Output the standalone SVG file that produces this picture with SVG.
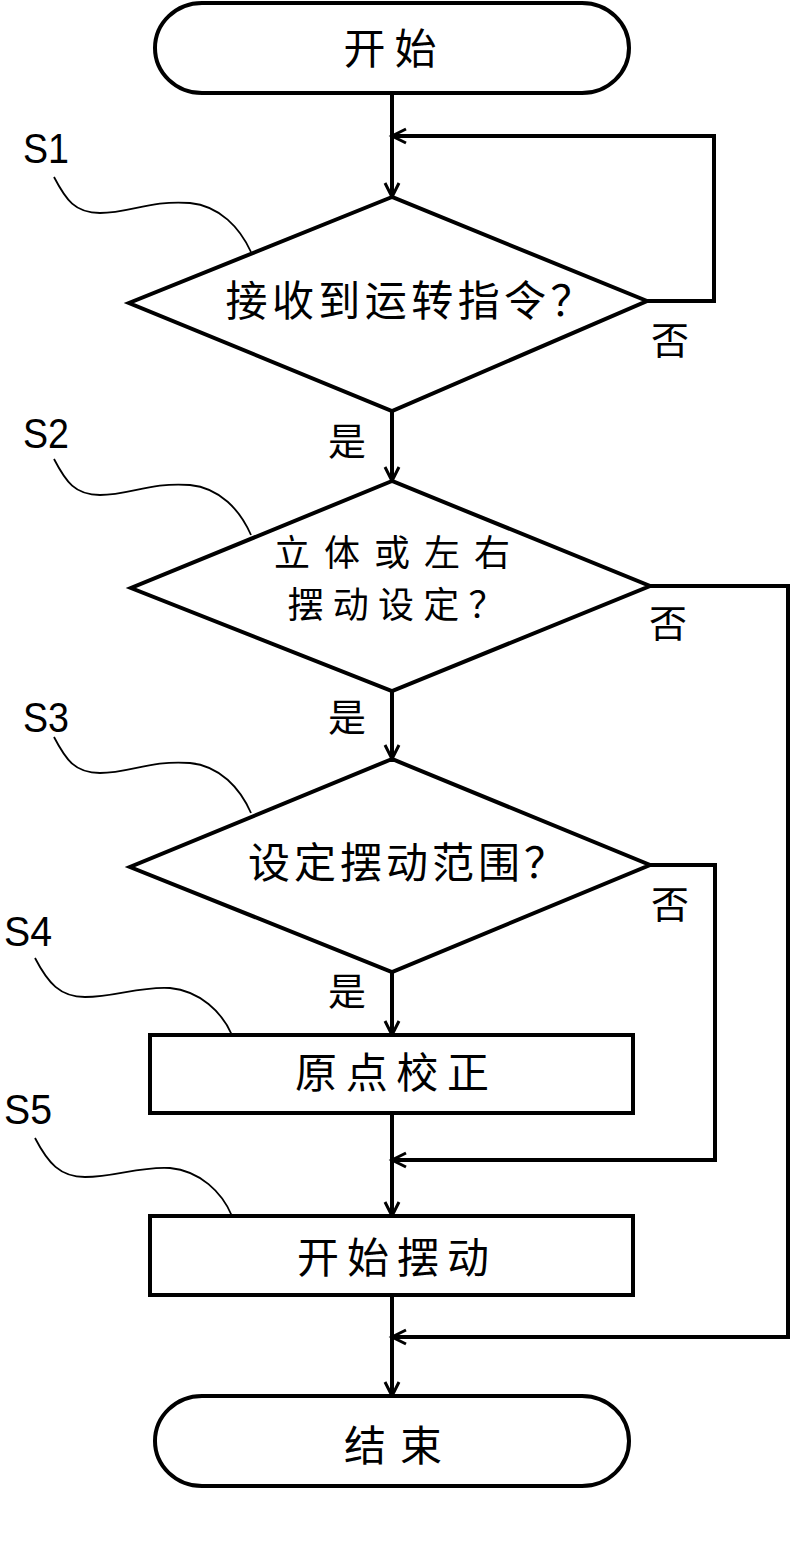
<svg xmlns="http://www.w3.org/2000/svg" width="811" height="1562" viewBox="0 0 811 1562">
<style>
.shape{fill:#fff;stroke:#000;stroke-width:4;stroke-linejoin:miter}
.conn{fill:none;stroke:#000;stroke-width:4}
.lead{fill:none;stroke:#000;stroke-width:1.8}
.t{font-family:"Noto Sans CJK SC","Noto Sans CJK JP",sans-serif;font-size:42px;fill:#000;text-anchor:middle}
.t2{font-family:"Noto Sans CJK SC","Noto Sans CJK JP",sans-serif;font-size:36px;fill:#000;text-anchor:middle}
.yn{font-family:"Noto Sans CJK SC","Noto Sans CJK JP",sans-serif;font-size:38px;fill:#000;text-anchor:middle}
.s{font-family:"Liberation Sans",Arial,sans-serif;font-size:42px;fill:#000}
</style>
<defs>
<marker id="arr" markerUnits="userSpaceOnUse" markerWidth="20" markerHeight="20" refX="16" refY="8" orient="auto" viewBox="0 0 20 16">
<path d="M2,1 L16,8 L2,15" fill="none" stroke="#000" stroke-width="3"/>
</marker>
</defs>
<rect width="811" height="1562" fill="#fff"/>
<g id="connectors">
<line class="conn" x1="392" y1="93" x2="392" y2="197" marker-end="url(#arr)"/>
<polyline class="conn" points="647,301 714,301 714,136 392,136" marker-end="url(#arr)"/>
<line class="conn" x1="392" y1="411" x2="392" y2="481" marker-end="url(#arr)"/>
<line class="conn" x1="392" y1="691" x2="392" y2="759" marker-end="url(#arr)"/>
<polyline class="conn" points="650,586 788,586 788,1337 392,1337" marker-end="url(#arr)"/>
<line class="conn" x1="392" y1="972" x2="392" y2="1035" marker-end="url(#arr)"/>
<polyline class="conn" points="650,865 715,865 715,1160 392,1160" marker-end="url(#arr)"/>
<line class="conn" x1="392" y1="1113" x2="392" y2="1216" marker-end="url(#arr)"/>
<line class="conn" x1="392" y1="1295" x2="392" y2="1396" marker-end="url(#arr)"/>
</g>
<g id="start">
<rect class="shape" x="155" y="3" width="474" height="90" rx="47" ry="45"/>
<text class="t" x="390" y="64" textLength="93" lengthAdjust="spacing">开始</text>
</g>
<g id="S1">
<polygon class="shape" points="392,197 129,303 392,411 647,301"/>
<text class="t" x="409" y="316" textLength="367" lengthAdjust="spacing">接收到运转指令？</text>
<text class="s" x="23" y="163" textLength="46" lengthAdjust="spacingAndGlyphs">S1</text>
<path class="lead" d="M54,177 C66,200 75,213 100,213 C130,213 150,200 190,203 C220,206 240,228 251,252"/>
<text class="yn" x="670" y="354">否</text>
<text class="yn" x="347" y="455">是</text>
</g>
<g id="S2">
<polygon class="shape" points="392,481 131,588 392,691 650,586"/>
<text class="t2" x="392" y="566" textLength="236" lengthAdjust="spacing">立体或左右</text>
<text class="t2" x="396" y="618" textLength="217" lengthAdjust="spacing">摆动设定？</text>
<text class="s" x="23" y="448" textLength="46" lengthAdjust="spacingAndGlyphs">S2</text>
<path class="lead" d="M54,459 C66,482 75,495 100,495 C130,495 150,482 190,485 C220,488 240,510 251,535"/>
<text class="yn" x="668" y="637">否</text>
<text class="yn" x="347" y="731">是</text>
</g>
<g id="S3">
<polygon class="shape" points="392,759 130,867 392,972 650,865"/>
<text class="t" x="407" y="878" textLength="318" lengthAdjust="spacing">设定摆动范围？</text>
<text class="s" x="23" y="732" textLength="46" lengthAdjust="spacingAndGlyphs">S3</text>
<path class="lead" d="M54,737 C66,760 75,773 100,773 C130,773 150,760 190,763 C220,766 240,788 251,813"/>
<text class="yn" x="670" y="918">否</text>
<text class="yn" x="347" y="1005">是</text>
</g>
<g id="S4">
<rect class="shape" x="150" y="1035" width="483" height="78"/>
<text class="t" x="392" y="1088" textLength="194" lengthAdjust="spacing">原点校正</text>
<text class="s" x="4" y="946" textLength="48" lengthAdjust="spacingAndGlyphs">S4</text>
<path class="lead" d="M35,958 C48,983 60,997 85,997 C115,997 140,986 170,988 C200,991 222,1012 232,1035"/>
</g>
<g id="S5">
<rect class="shape" x="150" y="1216" width="483" height="79"/>
<text class="t" x="393" y="1273" textLength="192" lengthAdjust="spacing">开始摆动</text>
<text class="s" x="4" y="1124" textLength="48" lengthAdjust="spacingAndGlyphs">S5</text>
<path class="lead" d="M35,1138 C48,1163 60,1177 85,1177 C115,1177 140,1166 170,1168 C200,1171 222,1192 232,1216"/>
</g>
<g id="end">
<rect class="shape" x="155" y="1396" width="474" height="90" rx="47" ry="45"/>
<text class="t" x="393" y="1461" textLength="98" lengthAdjust="spacing">结束</text>
</g>
</svg>
